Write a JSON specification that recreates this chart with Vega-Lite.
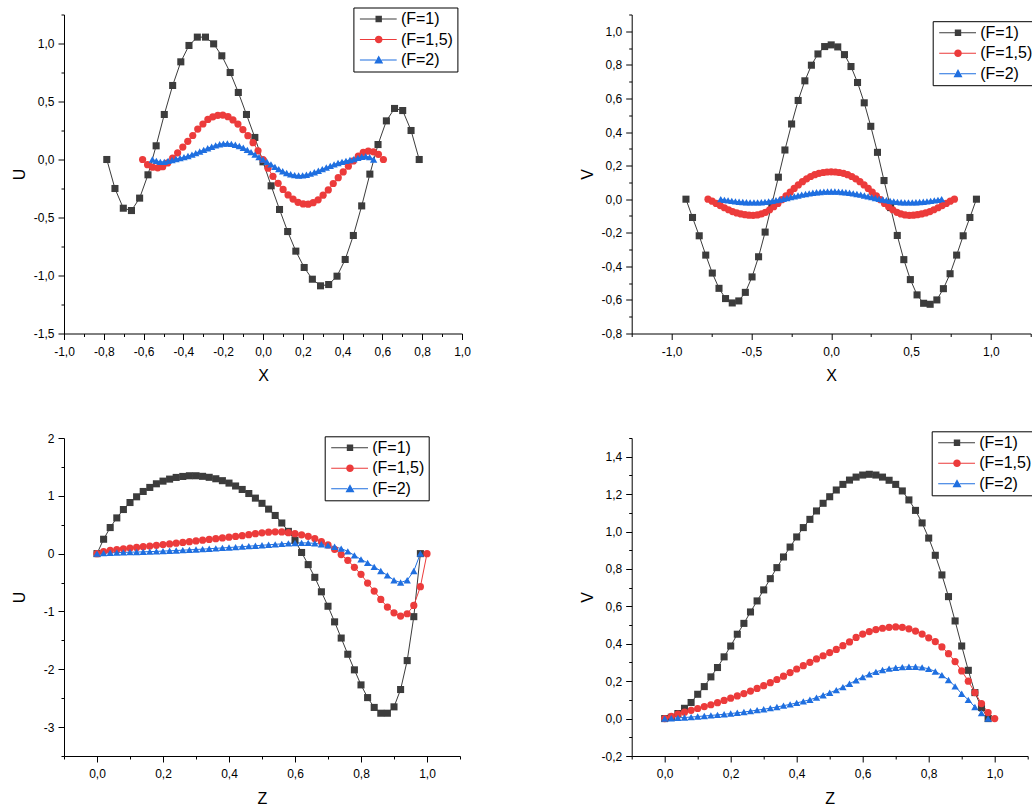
{
"$schema":"https://vega.github.io/schema/vega-lite/v6.json",
"background":"white",
"padding":{"left":11,"top":6.5,"right":0,"bottom":0},
"config":{
 "font":"Liberation Sans",
 "view":{"stroke":null},
 "axis":{"grid":false,"domainColor":"#000","domainWidth":1,"tickColor":"#000","tickWidth":1,"labelColor":"#000","titleColor":"#000","labelFont":"Liberation Sans","labelFontSize":12,"titleFont":"Liberation Sans","titleFontSize":16,"titleFontWeight":"normal","labelFlush":false,"labelOverlap":false,"labelBound":false},
 "axisX":{"labelPadding":6.5,"minExtent":22,"maxExtent":22,"titlePadding":12},
 "axisY":{"labelPadding":4,"minExtent":30,"maxExtent":30,"titlePadding":6.4},
 "legend":{"strokeColor":"#000","fillColor":"#fff","padding":3.5,"rowPadding":4.5,"symbolSize":100,"symbolStrokeWidth":0,"symbolOpacity":1,"labelFontSize":16,"labelFont":"Liberation Sans","labelColor":"#000","labelOffset":28}
},
"datasets":{
"p1":[
{"F":"1","x":-0.785,"y":0},{"F":"1","x":-0.744,"y":-0.25},{"F":"1","x":-0.702,"y":-0.42},{"F":"1","x":-0.661,"y":-0.44},{"F":"1","x":-0.62,"y":-0.333},{"F":"1","x":-0.578,"y":-0.132},{"F":"1","x":-0.537,"y":0.118},{"F":"1","x":-0.496,"y":0.388},{"F":"1","x":-0.454,"y":0.638},{"F":"1","x":-0.413,"y":0.842},{"F":"1","x":-0.372,"y":0.983},{"F":"1","x":-0.33,"y":1.055},{"F":"1","x":-0.289,"y":1.055},{"F":"1","x":-0.248,"y":0.997},{"F":"1","x":-0.207,"y":0.894},{"F":"1","x":-0.165,"y":0.75},{"F":"1","x":-0.124,"y":0.578},{"F":"1","x":-0.083,"y":0.388},{"F":"1","x":-0.041,"y":0.19},{"F":"1","x":0,"y":-0.02},{"F":"1","x":0.041,"y":-0.227},{"F":"1","x":0.083,"y":-0.431},{"F":"1","x":0.124,"y":-0.621},{"F":"1","x":0.165,"y":-0.79},{"F":"1","x":0.207,"y":-0.931},{"F":"1","x":0.248,"y":-1.032},{"F":"1","x":0.289,"y":-1.089},{"F":"1","x":0.33,"y":-1.078},{"F":"1","x":0.372,"y":-1.006},{"F":"1","x":0.413,"y":-0.862},{"F":"1","x":0.454,"y":-0.655},{"F":"1","x":0.496,"y":-0.4},{"F":"1","x":0.537,"y":-0.126},{"F":"1","x":0.578,"y":0.129},{"F":"1","x":0.62,"y":0.333},{"F":"1","x":0.661,"y":0.44},{"F":"1","x":0.702,"y":0.422},{"F":"1","x":0.744,"y":0.25},{"F":"1","x":0.785,"y":0},
{"F":"1,5","x":-0.605,"y":0},{"F":"1,5","x":-0.58,"y":-0.045},{"F":"1,5","x":-0.555,"y":-0.066},{"F":"1,5","x":-0.529,"y":-0.072},{"F":"1,5","x":-0.504,"y":-0.062},{"F":"1,5","x":-0.479,"y":-0.03},{"F":"1,5","x":-0.454,"y":0.012},{"F":"1,5","x":-0.429,"y":0.058},{"F":"1,5","x":-0.403,"y":0.107},{"F":"1,5","x":-0.378,"y":0.157},{"F":"1,5","x":-0.353,"y":0.207},{"F":"1,5","x":-0.328,"y":0.262},{"F":"1,5","x":-0.302,"y":0.306},{"F":"1,5","x":-0.277,"y":0.345},{"F":"1,5","x":-0.252,"y":0.368},{"F":"1,5","x":-0.227,"y":0.381},{"F":"1,5","x":-0.202,"y":0.383},{"F":"1,5","x":-0.176,"y":0.369},{"F":"1,5","x":-0.151,"y":0.341},{"F":"1,5","x":-0.126,"y":0.305},{"F":"1,5","x":-0.101,"y":0.258},{"F":"1,5","x":-0.076,"y":0.205},{"F":"1,5","x":-0.05,"y":0.145},{"F":"1,5","x":-0.025,"y":0.075},{"F":"1,5","x":0,"y":0},{"F":"1,5","x":0.025,"y":-0.075},{"F":"1,5","x":0.05,"y":-0.145},{"F":"1,5","x":0.076,"y":-0.205},{"F":"1,5","x":0.101,"y":-0.258},{"F":"1,5","x":0.126,"y":-0.305},{"F":"1,5","x":0.151,"y":-0.341},{"F":"1,5","x":0.176,"y":-0.369},{"F":"1,5","x":0.202,"y":-0.383},{"F":"1,5","x":0.227,"y":-0.385},{"F":"1,5","x":0.252,"y":-0.372},{"F":"1,5","x":0.277,"y":-0.348},{"F":"1,5","x":0.302,"y":-0.308},{"F":"1,5","x":0.328,"y":-0.262},{"F":"1,5","x":0.353,"y":-0.207},{"F":"1,5","x":0.378,"y":-0.157},{"F":"1,5","x":0.403,"y":-0.107},{"F":"1,5","x":0.429,"y":-0.058},{"F":"1,5","x":0.454,"y":-0.012},{"F":"1,5","x":0.479,"y":0.03},{"F":"1,5","x":0.504,"y":0.062},{"F":"1,5","x":0.529,"y":0.072},{"F":"1,5","x":0.555,"y":0.066},{"F":"1,5","x":0.58,"y":0.045},{"F":"1,5","x":0.605,"y":0},
{"F":"2","x":-0.556,"y":0},{"F":"2","x":-0.536,"y":-0.012},{"F":"2","x":-0.516,"y":-0.02},{"F":"2","x":-0.496,"y":-0.02},{"F":"2","x":-0.477,"y":-0.012},{"F":"2","x":-0.457,"y":-0.004},{"F":"2","x":-0.437,"y":0.004},{"F":"2","x":-0.417,"y":0.012},{"F":"2","x":-0.397,"y":0.02},{"F":"2","x":-0.377,"y":0.03},{"F":"2","x":-0.357,"y":0.042},{"F":"2","x":-0.338,"y":0.055},{"F":"2","x":-0.318,"y":0.069},{"F":"2","x":-0.298,"y":0.083},{"F":"2","x":-0.278,"y":0.097},{"F":"2","x":-0.258,"y":0.11},{"F":"2","x":-0.238,"y":0.122},{"F":"2","x":-0.218,"y":0.131},{"F":"2","x":-0.199,"y":0.137},{"F":"2","x":-0.179,"y":0.138},{"F":"2","x":-0.159,"y":0.135},{"F":"2","x":-0.139,"y":0.127},{"F":"2","x":-0.119,"y":0.116},{"F":"2","x":-0.099,"y":0.101},{"F":"2","x":-0.079,"y":0.083},{"F":"2","x":-0.06,"y":0.063},{"F":"2","x":-0.04,"y":0.042},{"F":"2","x":-0.02,"y":0.021},{"F":"2","x":0,"y":0},{"F":"2","x":0.02,"y":-0.021},{"F":"2","x":0.04,"y":-0.042},{"F":"2","x":0.06,"y":-0.063},{"F":"2","x":0.079,"y":-0.083},{"F":"2","x":0.099,"y":-0.101},{"F":"2","x":0.119,"y":-0.116},{"F":"2","x":0.139,"y":-0.127},{"F":"2","x":0.159,"y":-0.135},{"F":"2","x":0.179,"y":-0.138},{"F":"2","x":0.199,"y":-0.137},{"F":"2","x":0.218,"y":-0.131},{"F":"2","x":0.238,"y":-0.122},{"F":"2","x":0.258,"y":-0.11},{"F":"2","x":0.278,"y":-0.097},{"F":"2","x":0.298,"y":-0.083},{"F":"2","x":0.318,"y":-0.069},{"F":"2","x":0.338,"y":-0.055},{"F":"2","x":0.357,"y":-0.042},{"F":"2","x":0.377,"y":-0.03},{"F":"2","x":0.397,"y":-0.02},{"F":"2","x":0.417,"y":-0.012},{"F":"2","x":0.437,"y":-0.004},{"F":"2","x":0.457,"y":0.004},{"F":"2","x":0.477,"y":0.014},{"F":"2","x":0.496,"y":0.024},{"F":"2","x":0.516,"y":0.028},{"F":"2","x":0.536,"y":0.02},{"F":"2","x":0.556,"y":0}
],
"p2":[
{"F":"1","x":-0.91,"y":0},{"F":"1","x":-0.869,"y":-0.109},{"F":"1","x":-0.827,"y":-0.218},{"F":"1","x":-0.786,"y":-0.333},{"F":"1","x":-0.745,"y":-0.44},{"F":"1","x":-0.703,"y":-0.531},{"F":"1","x":-0.662,"y":-0.592},{"F":"1","x":-0.62,"y":-0.618},{"F":"1","x":-0.579,"y":-0.606},{"F":"1","x":-0.538,"y":-0.555},{"F":"1","x":-0.496,"y":-0.463},{"F":"1","x":-0.455,"y":-0.343},{"F":"1","x":-0.414,"y":-0.196},{"F":"1","x":-0.372,"y":-0.03},{"F":"1","x":-0.331,"y":0.131},{"F":"1","x":-0.29,"y":0.293},{"F":"1","x":-0.248,"y":0.448},{"F":"1","x":-0.207,"y":0.588},{"F":"1","x":-0.165,"y":0.705},{"F":"1","x":-0.124,"y":0.798},{"F":"1","x":-0.083,"y":0.865},{"F":"1","x":-0.041,"y":0.909},{"F":"1","x":0,"y":0.919},{"F":"1","x":0.041,"y":0.907},{"F":"1","x":0.083,"y":0.861},{"F":"1","x":0.124,"y":0.79},{"F":"1","x":0.165,"y":0.695},{"F":"1","x":0.207,"y":0.574},{"F":"1","x":0.248,"y":0.434},{"F":"1","x":0.29,"y":0.279},{"F":"1","x":0.331,"y":0.111},{"F":"1","x":0.372,"y":-0.05},{"F":"1","x":0.414,"y":-0.216},{"F":"1","x":0.455,"y":-0.36},{"F":"1","x":0.496,"y":-0.479},{"F":"1","x":0.538,"y":-0.57},{"F":"1","x":0.579,"y":-0.62},{"F":"1","x":0.62,"y":-0.626},{"F":"1","x":0.662,"y":-0.6},{"F":"1","x":0.703,"y":-0.533},{"F":"1","x":0.745,"y":-0.444},{"F":"1","x":0.786,"y":-0.333},{"F":"1","x":0.827,"y":-0.218},{"F":"1","x":0.869,"y":-0.109},{"F":"1","x":0.91,"y":0},
{"F":"1,5","x":-0.772,"y":0},{"F":"1,5","x":-0.746,"y":-0.012},{"F":"1,5","x":-0.721,"y":-0.025},{"F":"1,5","x":-0.695,"y":-0.038},{"F":"1,5","x":-0.669,"y":-0.051},{"F":"1,5","x":-0.643,"y":-0.063},{"F":"1,5","x":-0.618,"y":-0.074},{"F":"1,5","x":-0.592,"y":-0.082},{"F":"1,5","x":-0.566,"y":-0.088},{"F":"1,5","x":-0.54,"y":-0.092},{"F":"1,5","x":-0.515,"y":-0.095},{"F":"1,5","x":-0.489,"y":-0.096},{"F":"1,5","x":-0.463,"y":-0.094},{"F":"1,5","x":-0.437,"y":-0.088},{"F":"1,5","x":-0.412,"y":-0.078},{"F":"1,5","x":-0.386,"y":-0.063},{"F":"1,5","x":-0.36,"y":-0.045},{"F":"1,5","x":-0.334,"y":-0.025},{"F":"1,5","x":-0.309,"y":-0.003},{"F":"1,5","x":-0.283,"y":0.02},{"F":"1,5","x":-0.257,"y":0.042},{"F":"1,5","x":-0.232,"y":0.064},{"F":"1,5","x":-0.206,"y":0.085},{"F":"1,5","x":-0.18,"y":0.104},{"F":"1,5","x":-0.154,"y":0.121},{"F":"1,5","x":-0.129,"y":0.135},{"F":"1,5","x":-0.103,"y":0.146},{"F":"1,5","x":-0.077,"y":0.154},{"F":"1,5","x":-0.051,"y":0.159},{"F":"1,5","x":-0.026,"y":0.162},{"F":"1,5","x":0,"y":0.163},{"F":"1,5","x":0.026,"y":0.162},{"F":"1,5","x":0.051,"y":0.159},{"F":"1,5","x":0.077,"y":0.154},{"F":"1,5","x":0.103,"y":0.146},{"F":"1,5","x":0.129,"y":0.135},{"F":"1,5","x":0.154,"y":0.121},{"F":"1,5","x":0.18,"y":0.104},{"F":"1,5","x":0.206,"y":0.085},{"F":"1,5","x":0.232,"y":0.064},{"F":"1,5","x":0.257,"y":0.042},{"F":"1,5","x":0.283,"y":0.02},{"F":"1,5","x":0.309,"y":-0.003},{"F":"1,5","x":0.334,"y":-0.025},{"F":"1,5","x":0.36,"y":-0.045},{"F":"1,5","x":0.386,"y":-0.063},{"F":"1,5","x":0.412,"y":-0.078},{"F":"1,5","x":0.437,"y":-0.088},{"F":"1,5","x":0.463,"y":-0.094},{"F":"1,5","x":0.489,"y":-0.096},{"F":"1,5","x":0.515,"y":-0.095},{"F":"1,5","x":0.54,"y":-0.092},{"F":"1,5","x":0.566,"y":-0.088},{"F":"1,5","x":0.592,"y":-0.082},{"F":"1,5","x":0.618,"y":-0.074},{"F":"1,5","x":0.643,"y":-0.063},{"F":"1,5","x":0.669,"y":-0.051},{"F":"1,5","x":0.695,"y":-0.038},{"F":"1,5","x":0.721,"y":-0.025},{"F":"1,5","x":0.746,"y":-0.012},{"F":"1,5","x":0.772,"y":0},
{"F":"2","x":-0.692,"y":0},{"F":"2","x":-0.669,"y":-0.004},{"F":"2","x":-0.646,"y":-0.007},{"F":"2","x":-0.623,"y":-0.01},{"F":"2","x":-0.6,"y":-0.013},{"F":"2","x":-0.577,"y":-0.015},{"F":"2","x":-0.554,"y":-0.017},{"F":"2","x":-0.531,"y":-0.018},{"F":"2","x":-0.508,"y":-0.019},{"F":"2","x":-0.484,"y":-0.019},{"F":"2","x":-0.461,"y":-0.019},{"F":"2","x":-0.438,"y":-0.018},{"F":"2","x":-0.415,"y":-0.016},{"F":"2","x":-0.392,"y":-0.013},{"F":"2","x":-0.369,"y":-0.01},{"F":"2","x":-0.346,"y":-0.006},{"F":"2","x":-0.323,"y":-0.002},{"F":"2","x":-0.3,"y":0.002},{"F":"2","x":-0.277,"y":0.007},{"F":"2","x":-0.254,"y":0.012},{"F":"2","x":-0.231,"y":0.017},{"F":"2","x":-0.208,"y":0.022},{"F":"2","x":-0.185,"y":0.027},{"F":"2","x":-0.161,"y":0.031},{"F":"2","x":-0.138,"y":0.035},{"F":"2","x":-0.115,"y":0.038},{"F":"2","x":-0.092,"y":0.041},{"F":"2","x":-0.069,"y":0.043},{"F":"2","x":-0.046,"y":0.045},{"F":"2","x":-0.023,"y":0.046},{"F":"2","x":0,"y":0.046},{"F":"2","x":0.023,"y":0.046},{"F":"2","x":0.046,"y":0.045},{"F":"2","x":0.069,"y":0.043},{"F":"2","x":0.092,"y":0.041},{"F":"2","x":0.115,"y":0.038},{"F":"2","x":0.138,"y":0.035},{"F":"2","x":0.161,"y":0.031},{"F":"2","x":0.185,"y":0.027},{"F":"2","x":0.208,"y":0.022},{"F":"2","x":0.231,"y":0.017},{"F":"2","x":0.254,"y":0.012},{"F":"2","x":0.277,"y":0.007},{"F":"2","x":0.3,"y":0.002},{"F":"2","x":0.323,"y":-0.002},{"F":"2","x":0.346,"y":-0.006},{"F":"2","x":0.369,"y":-0.01},{"F":"2","x":0.392,"y":-0.013},{"F":"2","x":0.415,"y":-0.016},{"F":"2","x":0.438,"y":-0.018},{"F":"2","x":0.461,"y":-0.019},{"F":"2","x":0.484,"y":-0.019},{"F":"2","x":0.508,"y":-0.019},{"F":"2","x":0.531,"y":-0.018},{"F":"2","x":0.554,"y":-0.017},{"F":"2","x":0.577,"y":-0.015},{"F":"2","x":0.6,"y":-0.013},{"F":"2","x":0.623,"y":-0.01},{"F":"2","x":0.646,"y":-0.007},{"F":"2","x":0.669,"y":-0.004},{"F":"2","x":0.692,"y":0}
],
"p3":[
{"F":"1","x":0,"y":0},{"F":"1","x":0.02,"y":0.249},{"F":"1","x":0.04,"y":0.451},{"F":"1","x":0.06,"y":0.618},{"F":"1","x":0.08,"y":0.763},{"F":"1","x":0.1,"y":0.884},{"F":"1","x":0.12,"y":0.983},{"F":"1","x":0.14,"y":1.075},{"F":"1","x":0.16,"y":1.145},{"F":"1","x":0.18,"y":1.208},{"F":"1","x":0.2,"y":1.254},{"F":"1","x":0.22,"y":1.289},{"F":"1","x":0.24,"y":1.318},{"F":"1","x":0.26,"y":1.335},{"F":"1","x":0.28,"y":1.347},{"F":"1","x":0.3,"y":1.347},{"F":"1","x":0.32,"y":1.337},{"F":"1","x":0.34,"y":1.32},{"F":"1","x":0.36,"y":1.295},{"F":"1","x":0.38,"y":1.262},{"F":"1","x":0.4,"y":1.22},{"F":"1","x":0.42,"y":1.17},{"F":"1","x":0.44,"y":1.11},{"F":"1","x":0.46,"y":1.04},{"F":"1","x":0.48,"y":0.96},{"F":"1","x":0.5,"y":0.87},{"F":"1","x":0.52,"y":0.77},{"F":"1","x":0.54,"y":0.66},{"F":"1","x":0.56,"y":0.53},{"F":"1","x":0.58,"y":0.385},{"F":"1","x":0.6,"y":0.23},{"F":"1","x":0.62,"y":0.02},{"F":"1","x":0.64,"y":-0.19},{"F":"1","x":0.66,"y":-0.41},{"F":"1","x":0.68,"y":-0.66},{"F":"1","x":0.7,"y":-0.91},{"F":"1","x":0.72,"y":-1.18},{"F":"1","x":0.74,"y":-1.46},{"F":"1","x":0.76,"y":-1.74},{"F":"1","x":0.78,"y":-2.01},{"F":"1","x":0.8,"y":-2.27},{"F":"1","x":0.82,"y":-2.49},{"F":"1","x":0.84,"y":-2.66},{"F":"1","x":0.86,"y":-2.76},{"F":"1","x":0.88,"y":-2.76},{"F":"1","x":0.9,"y":-2.65},{"F":"1","x":0.92,"y":-2.35},{"F":"1","x":0.94,"y":-1.85},{"F":"1","x":0.96,"y":-1.09},{"F":"1","x":0.98,"y":0},
{"F":"1,5","x":0,"y":0},{"F":"1,5","x":0.02,"y":0.035},{"F":"1,5","x":0.04,"y":0.055},{"F":"1,5","x":0.06,"y":0.07},{"F":"1,5","x":0.08,"y":0.083},{"F":"1,5","x":0.1,"y":0.096},{"F":"1,5","x":0.12,"y":0.108},{"F":"1,5","x":0.14,"y":0.12},{"F":"1,5","x":0.16,"y":0.132},{"F":"1,5","x":0.18,"y":0.144},{"F":"1,5","x":0.2,"y":0.156},{"F":"1,5","x":0.22,"y":0.168},{"F":"1,5","x":0.24,"y":0.181},{"F":"1,5","x":0.26,"y":0.194},{"F":"1,5","x":0.28,"y":0.207},{"F":"1,5","x":0.3,"y":0.22},{"F":"1,5","x":0.32,"y":0.233},{"F":"1,5","x":0.34,"y":0.246},{"F":"1,5","x":0.36,"y":0.259},{"F":"1,5","x":0.38,"y":0.272},{"F":"1,5","x":0.4,"y":0.285},{"F":"1,5","x":0.42,"y":0.298},{"F":"1,5","x":0.44,"y":0.311},{"F":"1,5","x":0.46,"y":0.327},{"F":"1,5","x":0.48,"y":0.345},{"F":"1,5","x":0.5,"y":0.36},{"F":"1,5","x":0.52,"y":0.372},{"F":"1,5","x":0.54,"y":0.377},{"F":"1,5","x":0.56,"y":0.375},{"F":"1,5","x":0.58,"y":0.363},{"F":"1,5","x":0.6,"y":0.346},{"F":"1,5","x":0.62,"y":0.325},{"F":"1,5","x":0.64,"y":0.3},{"F":"1,5","x":0.66,"y":0.26},{"F":"1,5","x":0.68,"y":0.21},{"F":"1,5","x":0.7,"y":0.15},{"F":"1,5","x":0.72,"y":0.075},{"F":"1,5","x":0.74,"y":-0.017},{"F":"1,5","x":0.76,"y":-0.116},{"F":"1,5","x":0.78,"y":-0.237},{"F":"1,5","x":0.8,"y":-0.358},{"F":"1,5","x":0.82,"y":-0.509},{"F":"1,5","x":0.84,"y":-0.647},{"F":"1,5","x":0.86,"y":-0.792},{"F":"1,5","x":0.88,"y":-0.925},{"F":"1,5","x":0.9,"y":-1.023},{"F":"1,5","x":0.92,"y":-1.08},{"F":"1,5","x":0.94,"y":-1.04},{"F":"1,5","x":0.96,"y":-0.896},{"F":"1,5","x":0.98,"y":-0.572},{"F":"1,5","x":1,"y":0},
{"F":"2","x":0,"y":0},{"F":"2","x":0.02,"y":0.01},{"F":"2","x":0.04,"y":0.015},{"F":"2","x":0.06,"y":0.019},{"F":"2","x":0.08,"y":0.022},{"F":"2","x":0.1,"y":0.025},{"F":"2","x":0.12,"y":0.028},{"F":"2","x":0.14,"y":0.031},{"F":"2","x":0.16,"y":0.035},{"F":"2","x":0.18,"y":0.039},{"F":"2","x":0.2,"y":0.044},{"F":"2","x":0.22,"y":0.049},{"F":"2","x":0.24,"y":0.054},{"F":"2","x":0.26,"y":0.06},{"F":"2","x":0.28,"y":0.066},{"F":"2","x":0.3,"y":0.072},{"F":"2","x":0.32,"y":0.078},{"F":"2","x":0.34,"y":0.085},{"F":"2","x":0.36,"y":0.092},{"F":"2","x":0.38,"y":0.099},{"F":"2","x":0.4,"y":0.106},{"F":"2","x":0.42,"y":0.113},{"F":"2","x":0.44,"y":0.121},{"F":"2","x":0.46,"y":0.129},{"F":"2","x":0.48,"y":0.137},{"F":"2","x":0.5,"y":0.145},{"F":"2","x":0.52,"y":0.153},{"F":"2","x":0.54,"y":0.161},{"F":"2","x":0.56,"y":0.169},{"F":"2","x":0.58,"y":0.178},{"F":"2","x":0.6,"y":0.184},{"F":"2","x":0.62,"y":0.187},{"F":"2","x":0.64,"y":0.185},{"F":"2","x":0.66,"y":0.178},{"F":"2","x":0.68,"y":0.163},{"F":"2","x":0.7,"y":0.142},{"F":"2","x":0.72,"y":0.12},{"F":"2","x":0.74,"y":0.087},{"F":"2","x":0.76,"y":0.04},{"F":"2","x":0.78,"y":-0.03},{"F":"2","x":0.8,"y":-0.1},{"F":"2","x":0.82,"y":-0.16},{"F":"2","x":0.84,"y":-0.23},{"F":"2","x":0.86,"y":-0.3},{"F":"2","x":0.88,"y":-0.376},{"F":"2","x":0.9,"y":-0.46},{"F":"2","x":0.92,"y":-0.5},{"F":"2","x":0.94,"y":-0.46},{"F":"2","x":0.96,"y":-0.3},{"F":"2","x":0.98,"y":0}
],
"p4":[
{"F":"1","x":0,"y":0},{"F":"1","x":0.02,"y":0.007},{"F":"1","x":0.04,"y":0.027},{"F":"1","x":0.06,"y":0.055},{"F":"1","x":0.08,"y":0.086},{"F":"1","x":0.1,"y":0.13},{"F":"1","x":0.12,"y":0.171},{"F":"1","x":0.14,"y":0.223},{"F":"1","x":0.16,"y":0.273},{"F":"1","x":0.18,"y":0.33},{"F":"1","x":0.2,"y":0.388},{"F":"1","x":0.22,"y":0.451},{"F":"1","x":0.24,"y":0.509},{"F":"1","x":0.26,"y":0.57},{"F":"1","x":0.28,"y":0.629},{"F":"1","x":0.3,"y":0.688},{"F":"1","x":0.32,"y":0.748},{"F":"1","x":0.34,"y":0.807},{"F":"1","x":0.36,"y":0.864},{"F":"1","x":0.38,"y":0.917},{"F":"1","x":0.4,"y":0.971},{"F":"1","x":0.42,"y":1.021},{"F":"1","x":0.44,"y":1.065},{"F":"1","x":0.46,"y":1.11},{"F":"1","x":0.48,"y":1.151},{"F":"1","x":0.5,"y":1.186},{"F":"1","x":0.52,"y":1.222},{"F":"1","x":0.54,"y":1.252},{"F":"1","x":0.56,"y":1.275},{"F":"1","x":0.58,"y":1.291},{"F":"1","x":0.6,"y":1.302},{"F":"1","x":0.62,"y":1.306},{"F":"1","x":0.64,"y":1.302},{"F":"1","x":0.66,"y":1.291},{"F":"1","x":0.68,"y":1.274},{"F":"1","x":0.7,"y":1.252},{"F":"1","x":0.72,"y":1.217},{"F":"1","x":0.74,"y":1.169},{"F":"1","x":0.76,"y":1.113},{"F":"1","x":0.78,"y":1.046},{"F":"1","x":0.8,"y":0.965},{"F":"1","x":0.82,"y":0.873},{"F":"1","x":0.84,"y":0.768},{"F":"1","x":0.86,"y":0.652},{"F":"1","x":0.88,"y":0.522},{"F":"1","x":0.9,"y":0.388},{"F":"1","x":0.92,"y":0.258},{"F":"1","x":0.94,"y":0.139},{"F":"1","x":0.96,"y":0.059},{"F":"1","x":0.98,"y":0},
{"F":"1,5","x":0,"y":0},{"F":"1,5","x":0.02,"y":0.012},{"F":"1,5","x":0.04,"y":0.024},{"F":"1,5","x":0.06,"y":0.034},{"F":"1,5","x":0.08,"y":0.044},{"F":"1,5","x":0.1,"y":0.054},{"F":"1,5","x":0.12,"y":0.064},{"F":"1,5","x":0.14,"y":0.074},{"F":"1,5","x":0.16,"y":0.085},{"F":"1,5","x":0.18,"y":0.097},{"F":"1,5","x":0.2,"y":0.109},{"F":"1,5","x":0.22,"y":0.121},{"F":"1,5","x":0.24,"y":0.134},{"F":"1,5","x":0.26,"y":0.147},{"F":"1,5","x":0.28,"y":0.161},{"F":"1,5","x":0.3,"y":0.176},{"F":"1,5","x":0.32,"y":0.192},{"F":"1,5","x":0.34,"y":0.209},{"F":"1,5","x":0.36,"y":0.227},{"F":"1,5","x":0.38,"y":0.246},{"F":"1,5","x":0.4,"y":0.265},{"F":"1,5","x":0.42,"y":0.283},{"F":"1,5","x":0.44,"y":0.301},{"F":"1,5","x":0.46,"y":0.319},{"F":"1,5","x":0.48,"y":0.336},{"F":"1,5","x":0.5,"y":0.353},{"F":"1,5","x":0.52,"y":0.37},{"F":"1,5","x":0.54,"y":0.39},{"F":"1,5","x":0.56,"y":0.41},{"F":"1,5","x":0.58,"y":0.434},{"F":"1,5","x":0.6,"y":0.452},{"F":"1,5","x":0.62,"y":0.465},{"F":"1,5","x":0.64,"y":0.476},{"F":"1,5","x":0.66,"y":0.483},{"F":"1,5","x":0.68,"y":0.488},{"F":"1,5","x":0.7,"y":0.49},{"F":"1,5","x":0.72,"y":0.488},{"F":"1,5","x":0.74,"y":0.48},{"F":"1,5","x":0.76,"y":0.468},{"F":"1,5","x":0.78,"y":0.452},{"F":"1,5","x":0.8,"y":0.432},{"F":"1,5","x":0.82,"y":0.412},{"F":"1,5","x":0.84,"y":0.383},{"F":"1,5","x":0.86,"y":0.347},{"F":"1,5","x":0.88,"y":0.305},{"F":"1,5","x":0.9,"y":0.255},{"F":"1,5","x":0.92,"y":0.2},{"F":"1,5","x":0.94,"y":0.139},{"F":"1,5","x":0.96,"y":0.08},{"F":"1,5","x":0.98,"y":0.032},{"F":"1,5","x":1,"y":0},
{"F":"2","x":0,"y":0},{"F":"2","x":0.02,"y":0.002},{"F":"2","x":0.04,"y":0.004},{"F":"2","x":0.06,"y":0.006},{"F":"2","x":0.08,"y":0.008},{"F":"2","x":0.1,"y":0.011},{"F":"2","x":0.12,"y":0.014},{"F":"2","x":0.14,"y":0.017},{"F":"2","x":0.16,"y":0.02},{"F":"2","x":0.18,"y":0.023},{"F":"2","x":0.2,"y":0.027},{"F":"2","x":0.22,"y":0.031},{"F":"2","x":0.24,"y":0.035},{"F":"2","x":0.26,"y":0.04},{"F":"2","x":0.28,"y":0.045},{"F":"2","x":0.3,"y":0.05},{"F":"2","x":0.32,"y":0.056},{"F":"2","x":0.34,"y":0.062},{"F":"2","x":0.36,"y":0.069},{"F":"2","x":0.38,"y":0.076},{"F":"2","x":0.4,"y":0.084},{"F":"2","x":0.42,"y":0.092},{"F":"2","x":0.44,"y":0.101},{"F":"2","x":0.46,"y":0.112},{"F":"2","x":0.48,"y":0.125},{"F":"2","x":0.5,"y":0.138},{"F":"2","x":0.52,"y":0.152},{"F":"2","x":0.54,"y":0.168},{"F":"2","x":0.56,"y":0.186},{"F":"2","x":0.58,"y":0.205},{"F":"2","x":0.6,"y":0.222},{"F":"2","x":0.62,"y":0.237},{"F":"2","x":0.64,"y":0.25},{"F":"2","x":0.66,"y":0.26},{"F":"2","x":0.68,"y":0.267},{"F":"2","x":0.7,"y":0.272},{"F":"2","x":0.72,"y":0.275},{"F":"2","x":0.74,"y":0.277},{"F":"2","x":0.76,"y":0.277},{"F":"2","x":0.78,"y":0.274},{"F":"2","x":0.8,"y":0.266},{"F":"2","x":0.82,"y":0.252},{"F":"2","x":0.84,"y":0.232},{"F":"2","x":0.86,"y":0.206},{"F":"2","x":0.88,"y":0.172},{"F":"2","x":0.9,"y":0.133},{"F":"2","x":0.92,"y":0.1},{"F":"2","x":0.94,"y":0.062},{"F":"2","x":0.96,"y":0.03},{"F":"2","x":0.98,"y":0}
]
},
"columns":2,
"align":"each",
"bounds":"flush",
"spacing":{"row":104.5,"column":169.7},
"resolve":{"scale":{"color":"independent","shape":"independent","stroke":"independent","size":"independent"},"legend":{"color":"independent","shape":"independent","stroke":"independent","size":"independent"}},
"concat":[
{
 "width":398,"height":319,
 "data":{"name":"p1"},
 "encoding":{
  "x":{"field":"x","type":"quantitative","scale":{"domain":[-1,1],"nice":false,"zero":false},
   "axis":{"title":"X","values":[-1,-0.9,-0.8,-0.7,-0.6,-0.5,-0.4,-0.3,-0.2,-0.1,0,0.1,0.2,0.3,0.4,0.5,0.6,0.7,0.8,0.9,1],
    "labelExpr":"abs(round(datum.value*10))%2==0 ? replace(replace(format(datum.value,'.1f'),'.',','),'\u2212','-') : ''",
    "tickSize":{"condition":{"test":"abs(round(datum.value*10))%2==0","value":6},"value":3}}},
  "y":{"field":"y","type":"quantitative","scale":{"domain":[-1.5,1.25],"nice":false,"zero":false},
   "axis":{"title":"U","values":[-1.5,-1.25,-1,-0.75,-0.5,-0.25,0,0.25,0.5,0.75,1,1.25],
    "labelExpr":"abs(round(datum.value*4))%2==0 ? replace(replace(format(datum.value,'.1f'),'.',','),'\u2212','-') : ''",
    "tickSize":{"condition":{"test":"abs(round(datum.value*4))%2==0","value":6},"value":3}}}
 },
 "layer":[
  {"mark":{"type":"line","strokeWidth":1},
   "encoding":{"stroke":{"field":"F","type":"nominal","scale":{"domain":["1","1,5","2","none"],"range":["#3c3c3c","#ec3b3b","#1f6fe0","#999999"]},"legend":null}}},
  {"mark":{"type":"point","filled":true,"opacity":1},
   "encoding":{
    "shape":{"field":"F","type":"nominal","scale":{"domain":["1","1,5","2","none"],"range":["square","circle","triangle-up","diamond"]},"legend":null},
    "size":{"field":"F","type":"ordinal","scale":{"domain":["1","1,5","2","none"],"range":[50,56,72,10]},"legend":null},
    "color":{"field":"F","type":"nominal","scale":{"domain":["1","1,5","2"],"range":["#3c3c3c","#ec3b3b","#1f6fe0"]},
     "legend":{"title":null,"orient":"none","legendX":289.4,"legendY":-7,"direction":"vertical","labelExpr":"'(F=' + datum.label + ')'",
      "symbolType":{"expr":"datum.value==='1' ? 'M-1,-0.1H2.2V0.1H-1Z M3.3,-0.1H6.36V0.1H3.3Z M2.12,-0.64H3.4V0.64H2.12Z' : datum.value==='1,5' ? 'M-1,-0.1H2.1V0.1H-1Z M3.4,-0.1H6.36V0.1H3.4Z M2,0A0.76,0.76,0,1,1,3.52,0A0.76,0.76,0,1,1,2,0Z' : 'M-1,-0.1H2.2V0.1H-1Z M3.3,-0.1H6.36V0.1H3.3Z M2.76,-0.92L3.66,0.7L1.86,0.7Z'"}}}}}
 ]
},
{
 "width":399,"height":319,
 "data":{"name":"p2"},
 "encoding":{
  "x":{"field":"x","type":"quantitative","scale":{"domain":[-1.25,1.25],"nice":false,"zero":false},
   "axis":{"title":"X","values":[-1.25,-1,-0.75,-0.5,-0.25,0,0.25,0.5,0.75,1,1.25],
    "labelExpr":"abs(round(datum.value*4))%2==0 ? replace(replace(format(datum.value,'.1f'),'.',','),'\u2212','-') : ''",
    "tickSize":{"condition":{"test":"abs(round(datum.value*4))%2==0","value":6},"value":3}}},
  "y":{"field":"y","type":"quantitative","scale":{"domain":[-0.8,1.1],"nice":false,"zero":false},
   "axis":{"title":"V","values":[-0.8,-0.7,-0.6,-0.5,-0.4,-0.3,-0.2,-0.1,0,0.1,0.2,0.3,0.4,0.5,0.6,0.7,0.8,0.9,1,1.1],
    "labelExpr":"abs(round(datum.value*10))%2==0 ? replace(replace(format(datum.value,'.1f'),'.',','),'\u2212','-') : ''",
    "tickSize":{"condition":{"test":"abs(round(datum.value*10))%2==0","value":6},"value":3}}}
 },
 "layer":[
  {"mark":{"type":"line","strokeWidth":1},
   "encoding":{"stroke":{"field":"F","type":"nominal","scale":{"domain":["1","1,5","2","none"],"range":["#3c3c3c","#ec3b3b","#1f6fe0","#999999"]},"legend":null}}},
  {"mark":{"type":"point","filled":true,"opacity":1},
   "encoding":{
    "shape":{"field":"F","type":"nominal","scale":{"domain":["1","1,5","2","none"],"range":["square","circle","triangle-up","diamond"]},"legend":null},
    "size":{"field":"F","type":"ordinal","scale":{"domain":["1","1,5","2","none"],"range":[50,56,72,10]},"legend":null},
    "color":{"field":"F","type":"nominal","scale":{"domain":["1","1,5","2"],"range":["#3c3c3c","#ec3b3b","#1f6fe0"]},
     "legend":{"title":null,"orient":"none","legendX":301,"legendY":6.7,"direction":"vertical","labelExpr":"'(F=' + datum.label + ')'",
      "symbolType":{"expr":"datum.value==='1' ? 'M-1,-0.1H2.2V0.1H-1Z M3.3,-0.1H6.36V0.1H3.3Z M2.12,-0.64H3.4V0.64H2.12Z' : datum.value==='1,5' ? 'M-1,-0.1H2.1V0.1H-1Z M3.4,-0.1H6.36V0.1H3.4Z M2,0A0.76,0.76,0,1,1,3.52,0A0.76,0.76,0,1,1,2,0Z' : 'M-1,-0.1H2.2V0.1H-1Z M3.3,-0.1H6.36V0.1H3.3Z M2.76,-0.92L3.66,0.7L1.86,0.7Z'"}}}}}
 ]
},
{
 "width":396,"height":318,
 "data":{"name":"p3"},
 "encoding":{
  "x":{"field":"x","type":"quantitative","scale":{"domain":[-0.1,1.1],"nice":false,"zero":false},
   "axis":{"title":"Z","values":[-0.1,0,0.1,0.2,0.3,0.4,0.5,0.6,0.7,0.8,0.9,1,1.1],
    "labelExpr":"abs(round(datum.value*10))%2==0 ? replace(replace(format(datum.value,'.1f'),'.',','),'\u2212','-') : ''",
    "tickSize":{"condition":{"test":"abs(round(datum.value*10))%2==0","value":6},"value":3}}},
  "y":{"field":"y","type":"quantitative","scale":{"domain":[-3.5,2],"nice":false,"zero":false},
   "axis":{"title":"U","values":[-3.5,-3,-2.5,-2,-1.5,-1,-0.5,0,0.5,1,1.5,2],
    "labelExpr":"abs(round(datum.value*2))%2==0 ? replace(format(datum.value,'d'),'\u2212','-') : ''",
    "tickSize":{"condition":{"test":"abs(round(datum.value*2))%2==0","value":6},"value":3}}}
 },
 "layer":[
  {"mark":{"type":"line","strokeWidth":1},
   "encoding":{"stroke":{"field":"F","type":"nominal","scale":{"domain":["1","1,5","2","none"],"range":["#3c3c3c","#ec3b3b","#1f6fe0","#999999"]},"legend":null}}},
  {"mark":{"type":"point","filled":true,"opacity":1},
   "encoding":{
    "shape":{"field":"F","type":"nominal","scale":{"domain":["1","1,5","2","none"],"range":["square","circle","triangle-up","diamond"]},"legend":null},
    "size":{"field":"F","type":"ordinal","scale":{"domain":["1","1,5","2","none"],"range":[50,56,72,10]},"legend":null},
    "color":{"field":"F","type":"nominal","scale":{"domain":["1","1,5","2"],"range":["#3c3c3c","#ec3b3b","#1f6fe0"]},
     "legend":{"title":null,"orient":"none","legendX":260.7,"legendY":-1.7,"direction":"vertical","labelExpr":"'(F=' + datum.label + ')'",
      "symbolType":{"expr":"datum.value==='1' ? 'M-1,-0.1H2.2V0.1H-1Z M3.3,-0.1H6.36V0.1H3.3Z M2.12,-0.64H3.4V0.64H2.12Z' : datum.value==='1,5' ? 'M-1,-0.1H2.1V0.1H-1Z M3.4,-0.1H6.36V0.1H3.4Z M2,0A0.76,0.76,0,1,1,3.52,0A0.76,0.76,0,1,1,2,0Z' : 'M-1,-0.1H2.2V0.1H-1Z M3.3,-0.1H6.36V0.1H3.3Z M2.76,-0.92L3.66,0.7L1.86,0.7Z'"}}}}}
 ]
},
{
 "width":396,"height":318,
 "data":{"name":"p4"},
 "encoding":{
  "x":{"field":"x","type":"quantitative","scale":{"domain":[-0.1,1.1],"nice":false,"zero":false},
   "axis":{"title":"Z","values":[-0.1,0,0.1,0.2,0.3,0.4,0.5,0.6,0.7,0.8,0.9,1,1.1],
    "labelExpr":"abs(round(datum.value*10))%2==0 ? replace(replace(format(datum.value,'.1f'),'.',','),'\u2212','-') : ''",
    "tickSize":{"condition":{"test":"abs(round(datum.value*10))%2==0","value":6},"value":3}}},
  "y":{"field":"y","type":"quantitative","scale":{"domain":[-0.2,1.5],"nice":false,"zero":false},
   "axis":{"title":"V","values":[-0.2,-0.1,0,0.1,0.2,0.3,0.4,0.5,0.6,0.7,0.8,0.9,1,1.1,1.2,1.3,1.4,1.5],
    "labelExpr":"abs(round(datum.value*10))%2==0 ? replace(replace(format(datum.value,'.1f'),'.',','),'\u2212','-') : ''",
    "tickSize":{"condition":{"test":"abs(round(datum.value*10))%2==0","value":6},"value":3}}}
 },
 "layer":[
  {"mark":{"type":"line","strokeWidth":1},
   "encoding":{"stroke":{"field":"F","type":"nominal","scale":{"domain":["1","1,5","2","none"],"range":["#3c3c3c","#ec3b3b","#1f6fe0","#999999"]},"legend":null}}},
  {"mark":{"type":"point","filled":true,"opacity":1},
   "encoding":{
    "shape":{"field":"F","type":"nominal","scale":{"domain":["1","1,5","2","none"],"range":["square","circle","triangle-up","diamond"]},"legend":null},
    "size":{"field":"F","type":"ordinal","scale":{"domain":["1","1,5","2","none"],"range":[50,56,72,10]},"legend":null},
    "color":{"field":"F","type":"nominal","scale":{"domain":["1","1,5","2"],"range":["#3c3c3c","#ec3b3b","#1f6fe0"]},
     "legend":{"title":null,"orient":"none","legendX":300,"legendY":-6.7,"direction":"vertical","labelExpr":"'(F=' + datum.label + ')'",
      "symbolType":{"expr":"datum.value==='1' ? 'M-1,-0.1H2.2V0.1H-1Z M3.3,-0.1H6.36V0.1H3.3Z M2.12,-0.64H3.4V0.64H2.12Z' : datum.value==='1,5' ? 'M-1,-0.1H2.1V0.1H-1Z M3.4,-0.1H6.36V0.1H3.4Z M2,0A0.76,0.76,0,1,1,3.52,0A0.76,0.76,0,1,1,2,0Z' : 'M-1,-0.1H2.2V0.1H-1Z M3.3,-0.1H6.36V0.1H3.3Z M2.76,-0.92L3.66,0.7L1.86,0.7Z'"}}}}}
 ]
}
]
}
